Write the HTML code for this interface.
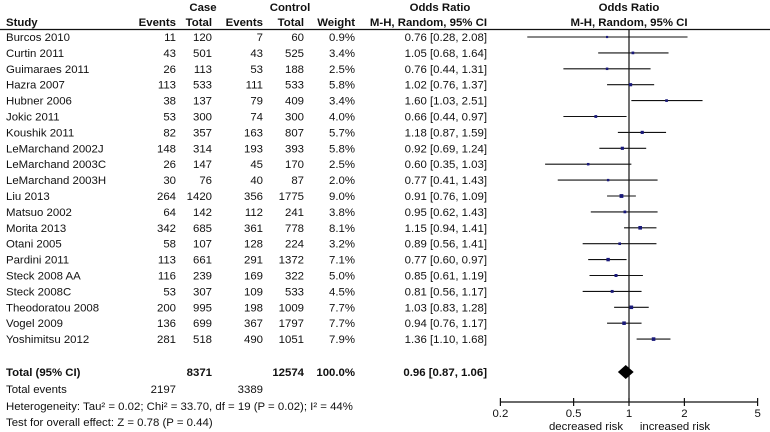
<!DOCTYPE html>
<html><head><meta charset="utf-8"><style>
body{margin:0;background:#fff;}
svg{display:block;font-family:"Liberation Sans",Arial,sans-serif;font-size:11.4px;fill:#111;}
.b{font-weight:bold;}
</style></head><body>
<svg id="c" width="770" height="432"></svg>
<script>
const studies=["Burcos 2010","Curtin 2011","Guimaraes 2011","Hazra 2007","Hubner 2006","Jokic 2011","Koushik 2011","LeMarchand 2002J","LeMarchand 2003C","LeMarchand 2003H","Liu 2013","Matsuo 2002","Morita 2013","Otani 2005","Pardini 2011","Steck 2008 AA","Steck 2008C","Theodoratou 2008","Vogel 2009","Yoshimitsu 2012"];
const caseEvents=[11,43,26,113,38,53,82,148,26,30,264,64,342,58,113,116,53,200,136,281];
const caseTotal=[120,501,113,533,137,300,357,314,147,76,1420,142,685,107,661,239,307,995,699,518];
const ctrlEvents=[7,43,53,111,79,74,163,193,45,40,356,112,361,128,291,169,109,198,367,490];
const ctrlTotal=[60,525,188,533,409,300,807,393,170,87,1775,241,778,224,1372,322,533,1009,1797,1051];
const weights=[0.9,3.4,2.5,5.8,3.4,4.0,5.7,5.8,2.5,2.0,9.0,3.8,8.1,3.2,7.1,5.0,4.5,7.7,7.7,7.9];
const orVals=[0.76,1.05,0.76,1.02,1.60,0.66,1.18,0.92,0.60,0.77,0.91,0.95,1.15,0.89,0.77,0.85,0.81,1.03,0.94,1.36];
const ciLow=[0.28,0.68,0.44,0.76,1.03,0.44,0.87,0.69,0.35,0.41,0.76,0.62,0.94,0.56,0.60,0.61,0.56,0.83,0.76,1.10];
const ciHigh=[2.08,1.64,1.31,1.37,2.51,0.97,1.59,1.24,1.03,1.43,1.09,1.43,1.41,1.41,0.97,1.19,1.17,1.28,1.17,1.68];
const pooled=[0.96,0.87,1.06];
const ticks=[0.2,0.5,1,2,5];
const tickLabels=["0.2","0.5","1","2","5"];

const svg=document.getElementById('c');
const NS="http://www.w3.org/2000/svg";
function el(tag,attrs,txt){const e=document.createElementNS(NS,tag);for(const k in attrs)e.setAttribute(k,attrs[k]);if(txt!==undefined)e.textContent=txt;svg.appendChild(e);return e;}
function xs(v){return 629+184*Math.log10(v);}
function ys(i){return 37+i*15.9;}
function t(x,y,s,anchor,cls,name){const e=el('text',{x:x,y:y,'text-anchor':anchor||'start','class':cls||''},s);

return e;}

t(203,11,"Case","middle","b","case-header");
t(290,11,"Control","middle","b","control-header");
t(440,11,"Odds Ratio","middle","b","or-header");
t(629,11,"Odds Ratio","middle","b","plot-header");
t(6,26,"Study","start","b","study-header");
t(176,26,"Events","end","b","case-events-header");
t(212,26,"Total","end","b","case-total-header");
t(263,26,"Events","end","b","control-events-header");
t(304,26,"Total","end","b","control-total-header");
t(355,26,"Weight","end","b","weight-header");
t(487,26,"M-H, Random, 95% CI","end","b","or-ci-header");
t(629,26,"M-H, Random, 95% CI","middle","b","plot-ci-header");
let hl=el('line',{x1:0,y1:29.5,x2:770,y2:29.5,stroke:'#111','stroke-width':1.2});



let vl=el('line',{x1:xs(1),y1:30,x2:xs(1),y2:402,stroke:'#111','stroke-width':1.2});



for(let i=0;i<studies.length;i++){
 const y=ys(i),by=y+4;
 t(6,by,studies[i],"start","","study-name");
 t(176,by,caseEvents[i],"end","","case-events");
 t(212,by,caseTotal[i],"end","","case-total");
 t(263,by,ctrlEvents[i],"end","","control-events");
 t(304,by,ctrlTotal[i],"end","","control-total");
 t(355,by,weights[i].toFixed(1)+"%","end","","weight");
 t(487,by,orVals[i].toFixed(2)+" ["+ciLow[i].toFixed(2)+", "+ciHigh[i].toFixed(2)+"]","end","","or-ci");
 const l=el('line',{x1:xs(ciLow[i]),y1:y,x2:xs(ciHigh[i]),y2:y,stroke:'#111','stroke-width':1.1});
 
 
 const s=2+weights[i]*0.2;
 const r=el('rect',{x:xs(orVals[i])-s/2,y:y-s/2,width:s,height:s,fill:'#1a1a7a'});
 
 
}
t(6,376,"Total (95% CI)","start","b","total-label");
t(212,376,"8371","end","b","case-total-sum");
t(304,376,"12574","end","b","control-total-sum");
t(355,376,"100.0%","end","b","weight-total");
t(487,376,pooled[0].toFixed(2)+" ["+pooled[1].toFixed(2)+", "+pooled[2].toFixed(2)+"]","end","b","pooled-or");
const dy=372;
const d=el('polygon',{points:`${xs(pooled[1])},${dy} ${xs(pooled[0])},${dy-7} ${xs(pooled[2])},${dy} ${xs(pooled[0])},${dy+7}`,fill:'#000'});


t(6,393,"Total events","start","","total-events-label");
t(176,393,"2197","end","","case-events-sum");
t(263,393,"3389","end","","control-events-sum");
t(6,410,"Heterogeneity: Tau² = 0.02; Chi² = 33.70, df = 19 (P = 0.02); I² = 44%","start","","heterogeneity");
t(6,426,"Test for overall effect: Z = 0.78 (P = 0.44)","start","","overall-effect");

const ax=el('line',{x1:xs(0.2),y1:402,x2:xs(5),y2:402,stroke:'#111','stroke-width':1.2});


for(let i=0;i<ticks.length;i++){
 const x=xs(ticks[i]);
 const tk=el('line',{x1:x,y1:398,x2:x,y2:406,stroke:'#111','stroke-width':1.2});
 
 
 t(x,417,tickLabels[i],"middle","","x-tick-label");
}
t(586,430,"decreased risk","middle","","decreased-risk-label");
t(675,430,"increased risk","middle","","increased-risk-label");
</script>
</body></html>
